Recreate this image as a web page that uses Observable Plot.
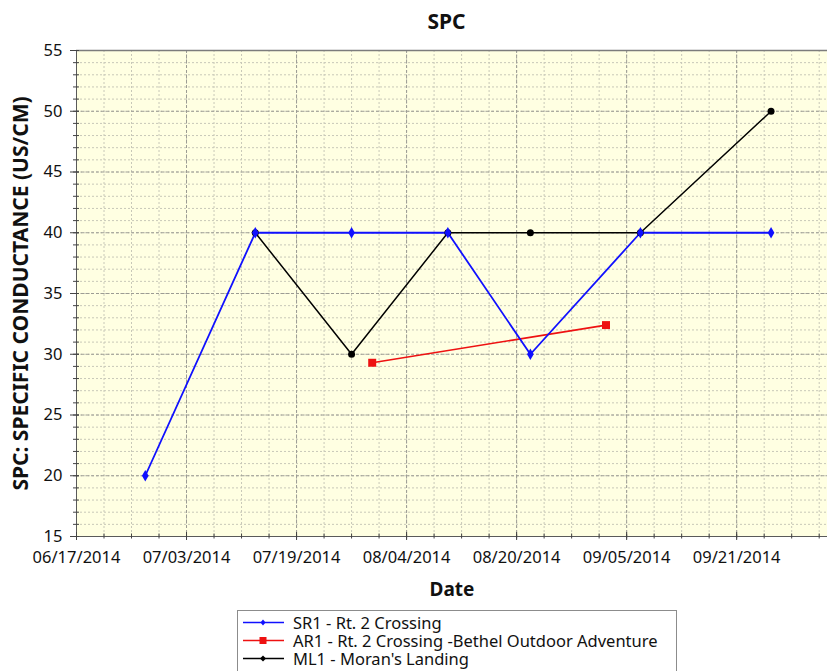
<!DOCTYPE html>
<html>
<head>
<meta charset="utf-8">
<script src="https://cdn.jsdelivr.net/npm/d3@7"></script>
<script src="https://cdn.jsdelivr.net/npm/@observablehq/plot@0.6"></script>
<style>
  html, body { margin: 0; padding: 0; background: #fff; overflow: hidden; width: 827px; height: 671px; }
  body { position: relative; font-family: "Noto Sans", sans-serif; color: #111; }
  #title { height: 40px; box-sizing: border-box; padding-top: 11px; padding-left: 66px; width: 827px;
           text-align: center; font: bold 21px "Noto Sans", sans-serif; line-height: 21px; }
  #title span { display: inline-block; width: 761px; }
  #chart svg { display: block; }
  #legend { position: absolute; left: 237px; top: 610px; width: 440px; height: 80px; box-sizing: border-box;
            border: 1px solid #8c8c8c; background: #fff; padding-top: 2.5px; }
  .row { height: 18px; line-height: 18px; font-size: 16.5px; white-space: nowrap; position: relative; }
  .row svg { position: absolute; left: 4px; top: 0; }
  .row span { position: absolute; left: 55px; top: 0; display: inline-block; height: 17px; line-height: 18px; overflow: visible; }
</style>
</head>
<body>
<div id="title"><span></span></div>
<div id="chart"></div>
<div id="legend"></div>
<script>
// ---- data ----
const chartTitle = "SPC";
const xTitle = "Date";
const yTitle = "SPC: SPECIFIC CONDUCTANCE (US/CM)";

const seriesNames = [
  "SR1 - Rt. 2 Crossing",
  "AR1 - Rt. 2 Crossing -Bethel Outdoor Adventure",
  "ML1 - Moran's Landing"
];

const sr1Dates  = ["2014-06-27", "2014-07-13", "2014-07-27", "2014-08-10", "2014-08-22", "2014-09-07", "2014-09-26"];
const sr1Values = [20, 40, 40, 40, 30, 40, 40];

const ar1Dates  = ["2014-07-30", "2014-09-02"];
const ar1Values = [29.3, 32.4];

const ml1Dates  = ["2014-07-13", "2014-07-27", "2014-08-10", "2014-08-22", "2014-09-07", "2014-09-26"];
const ml1Values = [40, 30, 40, 40, 40, 50];

const xTickLabels = ["06/17/2014", "07/03/2014", "07/19/2014", "08/04/2014", "08/20/2014", "09/05/2014", "09/21/2014"];
const yTickValues = [15, 20, 25, 30, 35, 40, 45, 50, 55];

// axis extent (right edge of the visible plot)
const xDomainEndISO = "2014-10-04T05:00:00Z";

// ---- styling ----
const colors = ["#1010ff", "#ee1111", "#000000"];
const parseISO = d3.utcParse("%Y-%m-%d");
const parseTick = d3.utcParse("%m/%d/%Y");
const fmtTick = d3.utcFormat("%m/%d/%Y");

const rows = [];
[[sr1Dates, sr1Values], [ar1Dates, ar1Values], [ml1Dates, ml1Values]].forEach(([ds, vs], i) => {
  ds.forEach((d, j) => rows.push({series: seriesNames[i], date: parseISO(d), value: vs[j]}));
});

const xMajor = xTickLabels.map(parseTick);
const xStart = xMajor[0];
const xEnd = new Date(xDomainEndISO);
const xMinor = d3.utcDay.range(xStart, xEnd, 4);
const yMinor = d3.range(yTickValues[0], yTickValues[yTickValues.length - 1] + 1, 1);
const yLo = yTickValues[0], yHi = yTickValues[yTickValues.length - 1];

const H = 570;
const sel = s => rows.filter(r => r.series === s);

const chart = Plot.plot({
  width: 827,
  height: H,
  marginLeft: 76,
  marginRight: 0,
  marginTop: 10,
  marginBottom: 74,
  style: {background: "transparent", fontFamily: "Noto Sans, sans-serif", fontSize: "16.5px", color: "#111", overflow: "visible"},
  x: {type: "utc", domain: [xStart, xEnd]},
  y: {domain: [yLo, yHi]},
  marks: [
    Plot.frame({fill: "#ffffe2", stroke: "none"}),
    // grid
    Plot.ruleX(xMinor.filter(d => +d !== +xStart), {stroke: "#c8c8b8", strokeDasharray: "2,2", strokeWidth: 1}),
    Plot.ruleY(yMinor.filter(v => v !== yLo && v !== yHi), {stroke: "#c8c8b8", strokeDasharray: "2,2", strokeWidth: 1}),
    Plot.ruleX(xMajor.filter(d => +d !== +xStart), {stroke: "#9c9c94", strokeDasharray: "3,2", strokeWidth: 1}),
    Plot.ruleY(yTickValues.filter(v => v !== yLo && v !== yHi), {stroke: "#9c9c94", strokeDasharray: "3,2", strokeWidth: 1}),
    // axis lines and top border
    Plot.ruleY([yHi], {stroke: "#7c7c7c", strokeWidth: 1.5}),
    Plot.ruleX([xStart], {stroke: "#5a5a5a", strokeWidth: 1}),
    Plot.ruleY([yLo], {stroke: "#5a5a5a", strokeWidth: 1}),
    // y axis ticks and labels
    Plot.axisY({ticks: yMinor, tickSize: 6, dx: 3, tickFormat: () => "", label: null, stroke: "#444"}),
    Plot.axisY({ticks: yTickValues, tickSize: 9, dx: 3, tickFormat: () => "", label: null, stroke: "#444"}),
    Plot.axisY({ticks: yTickValues, tickSize: 0, tickPadding: 14, label: null, fill: "#111"}),
    // x axis ticks and labels
    Plot.axisX({ticks: xMinor, tickSize: 5, dy: -2.5, tickFormat: () => "", label: null, stroke: "#444"}),
    Plot.axisX({ticks: xMajor, tickSize: 8, dy: -4, tickFormat: () => "", label: null, stroke: "#444"}),
    Plot.axisX({ticks: xMajor, tickSize: 0, tickPadding: 15, tickFormat: fmtTick, label: null, fill: "#111"}),
    // axis titles
    Plot.text([xTitle], {text: d => d, frameAnchor: "bottom", dy: 53, lineAnchor: "middle", textAnchor: "middle", fontWeight: "bold", fontSize: 19, fill: "#111"}),
    Plot.text([yTitle], {text: d => d, frameAnchor: "left", rotate: -90, dx: -55, lineAnchor: "middle", textAnchor: "middle", fontWeight: "bold", fontSize: 21, fill: "#111"}),
    // series lines
    Plot.line(sel(seriesNames[2]), {x: "date", y: "value", stroke: colors[2], strokeWidth: 1.5}),
    Plot.line(sel(seriesNames[1]), {x: "date", y: "value", stroke: colors[1], strokeWidth: 1.6}),
    Plot.line(sel(seriesNames[0]), {x: "date", y: "value", stroke: colors[0], strokeWidth: 1.8}),
    // markers
    Plot.dot(sel(seriesNames[2]), {x: "date", y: "value", r: 3.5, fill: colors[2], stroke: "none"}),
    Plot.dot(sel(seriesNames[1]), {x: "date", y: "value", r: 4.5, symbol: "square", fill: colors[1], stroke: "none"}),
    Plot.dot(sel(seriesNames[0]), {x: "date", y: "value", r: 3.5, symbol: "diamond", fill: colors[0], stroke: "none"})
  ]
});
document.getElementById("chart").appendChild(chart);
document.querySelector("#title span").textContent = chartTitle;

// legend
const legend = document.getElementById("legend");
const markerSvg = [
  c => `<path d="M21 5.5 L23.5 8.5 L21 11.5 L18.5 8.5 Z" fill="${c}"/>`,
  c => `<rect x="17.5" y="5" width="7" height="7" fill="${c}"/>`,
  c => `<path d="M21 5.5 L24 8.5 L21 11.5 L18 8.5 Z" fill="${c}"/>`
];
seriesNames.forEach((name, i) => {
  const row = document.createElement("div");
  row.className = "row";
  row.innerHTML = `<svg width="44" height="18"><line x1="1" x2="42" y1="8.5" y2="8.5" stroke="${colors[i]}" stroke-width="1.6"/>${markerSvg[i](colors[i])}</svg><span></span>`;
  row.querySelector("span").textContent = name;
  legend.appendChild(row);
});
</script>
</body>
</html>
